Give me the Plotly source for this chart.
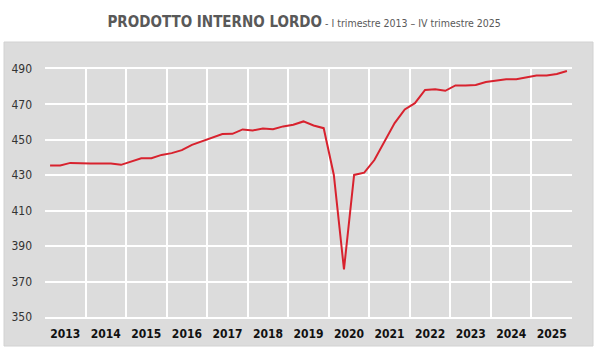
import plotly.graph_objects as go

years = ["2013", "2014", "2015", "2016", "2017", "2018", "2019",
         "2020", "2021", "2022", "2023", "2024", "2025"]
quarters = ["I", "II", "III", "IV"]
pil = [
    435.5, 435.5, 437.0, 436.6,   # 2013
    436.6, 436.6, 436.6, 435.9,   # 2014
    437.7, 439.6, 439.6, 441.5,   # 2015
    442.5, 444.2, 447.2, 449.2,   # 2016
    451.0, 453.3, 453.4, 455.9,   # 2017
    455.3, 456.4, 456.0, 457.6,   # 2018
    458.5, 460.4, 458.1, 456.6,   # 2019
    430.2, 376.9, 430.2, 431.5,   # 2020
    438.6, 448.9, 459.5, 467.2,   # 2021
    470.7, 478.2, 478.6, 477.7,   # 2022
    480.7, 480.7, 481.0, 482.7,   # 2023
    483.3, 484.2, 484.2, 485.1,   # 2024
    486.3, 486.3, 487.2, 488.9,   # 2025
]
y_ticks = [350, 370, 390, 410, 430, 450, 470, 490]

labels = [f"{q} {y}" for y in years for q in quarters]
xpos = list(range(len(pil)))
year_centers = [4 * k + 1.5 for k in range(len(years))]

NARROW = "Liberation Sans Narrow, Arial Narrow, DejaVu Sans Condensed, sans-serif"
BG = "#dcdcdc"

fig = go.Figure()
fig.add_trace(go.Scatter(
    x=xpos, y=pil, mode="lines",
    line=dict(color="#d8222e", width=2),
    customdata=labels,
    hovertemplate="%{customdata}: %{y:.1f}<extra></extra>",
))

L, R, T, B = 45, 28, 69, 43
W, H = 600, 360
pw, ph = W - L - R, H - T - B

def px_x(v):
    return (v - L) / pw

def px_y(v):
    return (H - B - v) / ph

fig.add_shape(type="rect", xref="paper", yref="paper", layer="below",
              x0=px_x(4), x1=px_x(593), y0=px_y(346), y1=px_y(42),
              fillcolor=BG, line=dict(color="#d2d2d2", width=1))

fig.update_layout(
    width=W, height=H,
    margin=dict(l=L, r=R, t=T, b=B, autoexpand=False),
    paper_bgcolor="white",
    plot_bgcolor=BG,
    showlegend=False,
    title=dict(
        text="<b>PRODOTTO INTERNO LORDO</b><span style='font-size:10.5px'> - I trimestre 2013 – IV trimestre 2025</span>",
        x=0.507, xanchor="center", xref="container",
        y=1 - 22 / H, yanchor="middle", yref="container",
        font=dict(family=NARROW, size=15, color="#595959"),
    ),
    xaxis=dict(
        range=[-0.5, len(pil) - 0.5],
        tickmode="array", tickvals=year_centers, ticktext=[f"<b>{y}</b>" for y in years],
        showgrid=False, zeroline=False,
        ticks="", ticklabelstandoff=5,
        tickfont=dict(family=NARROW, size=12, color="#111111"),
        minor=dict(tick0=-0.5, dtick=4, showgrid=True, gridcolor="white", gridwidth=1.5),
        showline=True, linecolor="white", linewidth=1.5, mirror=True,
        fixedrange=True,
    ),
    yaxis=dict(
        range=[350, 490],
        tickmode="array", tickvals=y_ticks, ticktext=[str(v) for v in y_ticks],
        showgrid=True, gridcolor="white", gridwidth=1.5, zeroline=False,
        ticks="", ticklabelstandoff=12,
        tickfont=dict(family=NARROW, size=12, color="#333333"),
        fixedrange=True,
    ),
)

fig.write_html("out.html", config={"displayModeBar": False},
               post_script="document.body.style.margin='0';")
